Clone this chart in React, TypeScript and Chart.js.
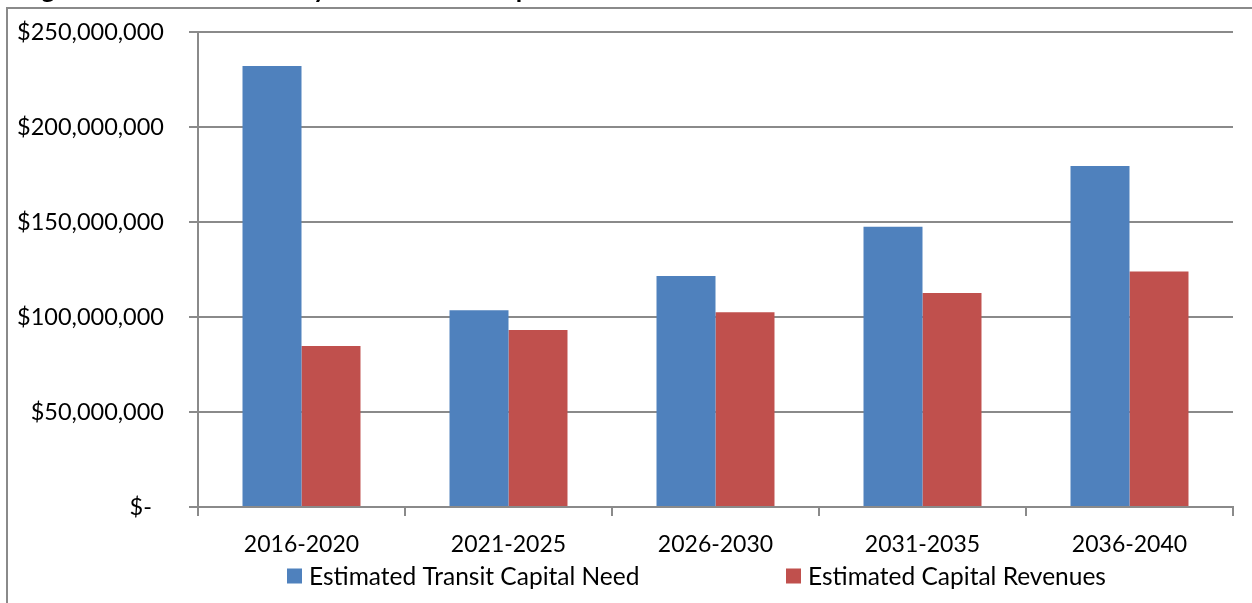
import React, { useEffect, useRef } from "react";
import { Chart, registerables } from "chart.js";

Chart.register(...registerables);

// Five-year planning periods
const periods = ["2016-2020", "2021-2025", "2026-2030", "2031-2035", "2036-2040"];

// Dollar amounts per period
const transitCapitalNeed = [232100000, 103500000, 121600000, 147500000, 179500000];
const capitalRevenues = [84700000, 93200000, 102500000, 112600000, 124000000];

const seriesNames = ["Estimated Transit Capital Need", "Estimated Capital Revenues"];
const seriesColors = ["#4F81BD", "#C0504D"];

const titleText = "Figure 6-1: Lebanon Valley MPO Transit Capital Needs vs Estimated Revenue";

// Y axis range and step
const yMin = 0;
const yMax = 250000000;
const yStep = 50000000;

const FONT = "Lato, 'Open Sans', sans-serif";
const AXIS_GRAY = "#8a8a8a";

const formatDollars = (v: number) =>
  v === 0 ? "$-  " : "$" + Math.round(v).toLocaleString("en-US");

// Frame, clipped title, and a legend laid out in two wide slots under the axis
const decorPlugin = {
  id: "decor",
  beforeDraw(chart: Chart) {
    const ctx = chart.ctx;
    ctx.save();
    ctx.fillStyle = "#ffffff";
    ctx.fillRect(0, 0, chart.width, chart.height);

    ctx.fillStyle = "#000000";
    ctx.font = `bold 26px ${FONT}`;
    ctx.textAlign = "left";
    ctx.textBaseline = "alphabetic";
    ctx.fillText(titleText, 20, -2);

    ctx.strokeStyle = AXIS_GRAY;
    ctx.lineWidth = 2;
    ctx.beginPath();
    ctx.moveTo(7, chart.height);
    ctx.lineTo(7, 8);
    ctx.lineTo(chart.width, 8);
    ctx.stroke();
    ctx.restore();
  },
  afterDraw(chart: Chart) {
    const ctx = chart.ctx;
    const slots = [287, 786];
    const boxSize = 15;
    const cy = 576;
    ctx.save();
    ctx.font = `24.5px ${FONT}`;
    ctx.textAlign = "left";
    ctx.textBaseline = "middle";
    chart.data.datasets.forEach((ds, i) => {
      const x = slots[i];
      ctx.fillStyle = ds.backgroundColor as string;
      ctx.fillRect(x, cy - boxSize / 2, boxSize, boxSize);
      ctx.fillStyle = "#000000";
      ctx.fillText(ds.label as string, x + boxSize + 7, cy + 1);
    });
    ctx.restore();
  },
};

export default function App() {
  const canvasRef = useRef<HTMLCanvasElement | null>(null);

  useEffect(() => {
    if (!canvasRef.current) return;
    const chart = new Chart(canvasRef.current, {
      type: "bar",
      data: {
        labels: periods,
        datasets: [
          {
            label: seriesNames[0],
            data: transitCapitalNeed,
            backgroundColor: seriesColors[0],
            categoryPercentage: 0.57,
            barPercentage: 1.0,
          },
          {
            label: seriesNames[1],
            data: capitalRevenues,
            backgroundColor: seriesColors[1],
            categoryPercentage: 0.57,
            barPercentage: 1.0,
          },
        ],
      },
      options: {
        animation: false,
        responsive: false,
        devicePixelRatio: 1,
        layout: { padding: { top: 32, right: 19, bottom: 0, left: 0 } },
        plugins: {
          legend: { display: false },
          tooltip: { enabled: false },
          title: { display: false },
        },
        scales: {
          x: {
            grid: {
              display: true,
              drawOnChartArea: false,
              drawTicks: true,
              tickLength: 9,
              color: AXIS_GRAY,
              lineWidth: 2,
              offset: true,
            },
            border: { display: true, color: AXIS_GRAY, width: 2 },
            ticks: {
              color: "#000000",
              font: { family: FONT, size: 23 },
              padding: 15,
              maxRotation: 0,
            },
            afterFit(scale: any) {
              scale.height = 96;
            },
          },
          y: {
            min: yMin,
            max: yMax,
            grid: {
              color: AXIS_GRAY,
              lineWidth: 2,
              drawTicks: true,
              tickLength: 9,
            },
            border: { display: true, color: AXIS_GRAY, width: 2 },
            ticks: {
              stepSize: yStep,
              color: "#000000",
              font: { family: FONT, size: 23.5 },
              padding: 25,
              callback: (v: any) => formatDollars(Number(v)),
            },
            afterFit(scale: any) {
              scale.width = 198;
              scale.paddingTop = 0;
              scale.paddingBottom = 0;
            },
          },
        },
      },
      plugins: [decorPlugin],
    });
    return () => chart.destroy();
  }, []);

  return (
    <div style={{ position: "fixed", left: 0, top: 0, width: 1252, height: 603, background: "#fff" }}>
      <canvas ref={canvasRef} width={1252} height={603} style={{ width: 1252, height: 603, display: "block" }} />
    </div>
  );
}
